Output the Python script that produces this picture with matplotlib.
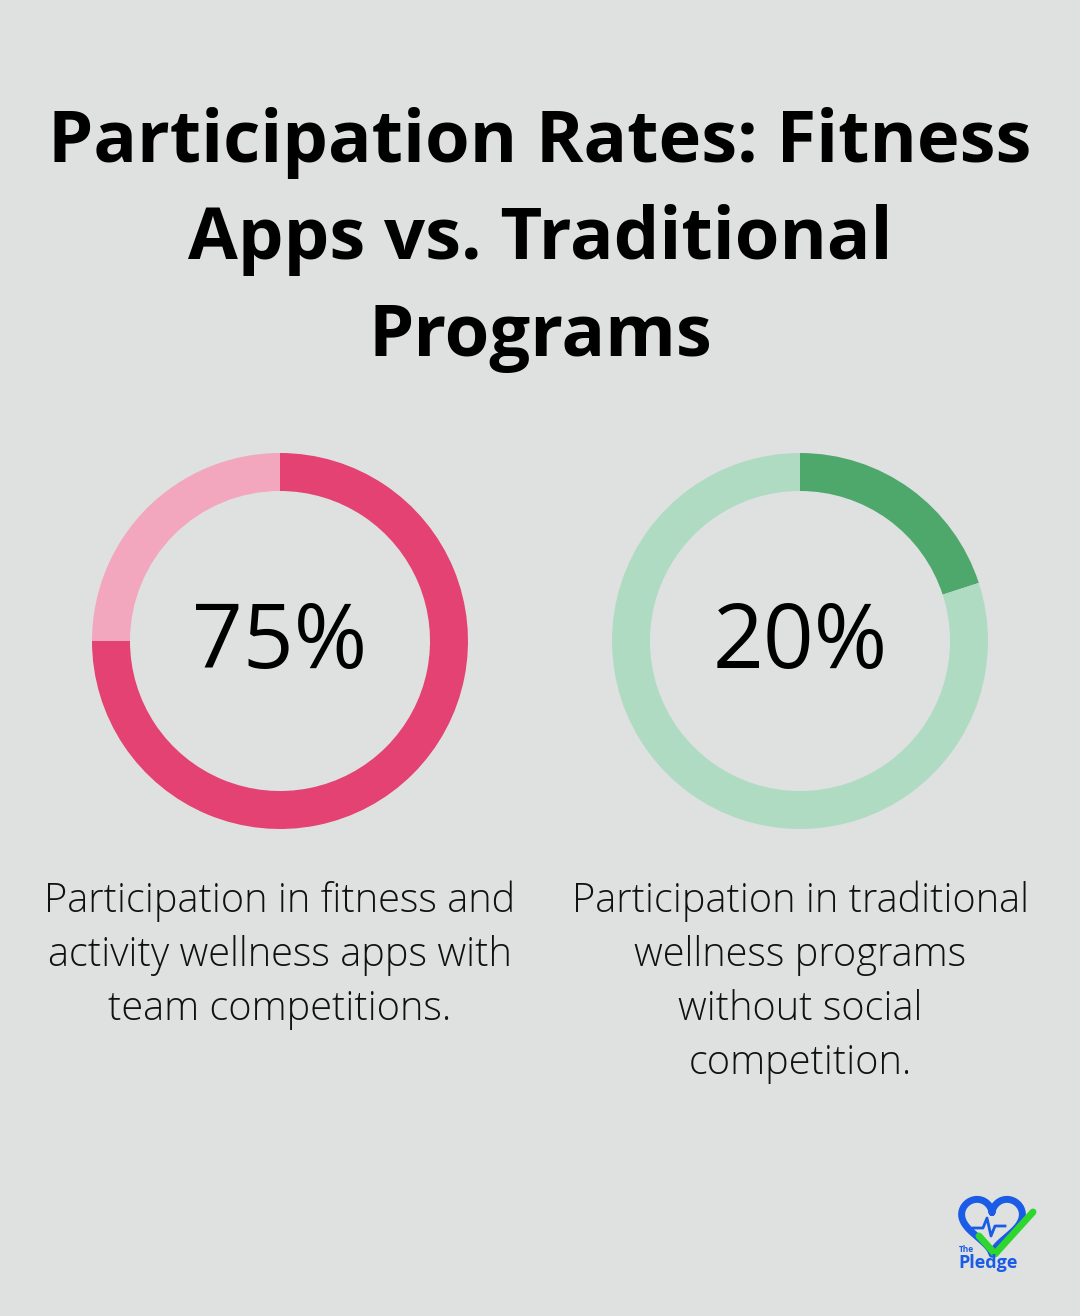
import numpy as np
import matplotlib
matplotlib.use('Agg')
import matplotlib.pyplot as plt

# data
values = [75, 20]
labels = ["75%", "20%"]
captions = ["Participation in fitness and\nactivity wellness apps with\nteam competitions.",
            "Participation in traditional\nwellness programs\nwithout social\ncompetition."]
dark_colors = ["#e34273", "#4ea86c"]
light_colors = ["#f2a7be", "#b0dbc3"]
title = "Participation Rates: Fitness\nApps vs. Traditional\nPrograms"

W, H = 1080, 1316
bg = "#dfe1e0"
fig = plt.figure(figsize=(W/100, H/100), dpi=100, facecolor=bg)
plt.rcParams['font.family'] = ['Open Sans', 'DejaVu Sans']

base = fig.add_axes([0, 0, 1, 1])
base.set_xlim(0, W)
base.set_ylim(H, 0)
base.axis('off')
base.set_facecolor(bg)

base.text(540, 240, title, ha='center', va='center', fontsize=52, fontweight='bold',
          linespacing=1.46, color='black')

centers = [280, 800]
cy = 641
R = 188
for i in range(2):
    ax = fig.add_axes([(centers[i]-R)/W, (H-cy-R)/H, 2*R/W, 2*R/H])
    ax.pie([values[i], 100-values[i]], colors=[dark_colors[i], light_colors[i]],
           startangle=90, counterclock=False, radius=1,
           wedgeprops=dict(width=38/R, linewidth=0))
    ax.set_xlim(-1, 1)
    ax.set_ylim(-1, 1)
    ax.set_aspect('equal')
    ax.axis('off')
    base.text(centers[i], cy + 4, labels[i], ha='center', va='center', fontsize=64, color='black')
    base.text(centers[i], 880, captions[i], ha='center', va='top', fontsize=28.6,
              fontweight='light', linespacing=1.42, color='#111111')

# logo
t = np.linspace(0, 2*np.pi, 200)
hx = 16*np.sin(t)**3
hy = 13*np.cos(t) - 5*np.cos(2*t) - 2*np.cos(3*t) - np.cos(4*t)
base.plot(992 + hx*1.9, 1222 - hy*1.9, color='#1a5ce6', lw=5, solid_capstyle='round')
base.plot([973, 983, 987, 991, 995, 1005], [1228, 1228, 1218, 1236, 1226, 1226], color='#1a5ce6', lw=2)
base.plot([979, 995, 1033], [1236, 1254, 1212], color='#2ed62e', lw=5, solid_capstyle='round')
base.text(959, 1249, "The", fontsize=6, fontweight='bold', color='#1a5ce6', va='center')
base.text(958, 1263, "Pledge", fontsize=13, fontweight='bold', color='#1a5ce6', va='center')

fig.savefig("out.png", dpi=100, facecolor=bg)
